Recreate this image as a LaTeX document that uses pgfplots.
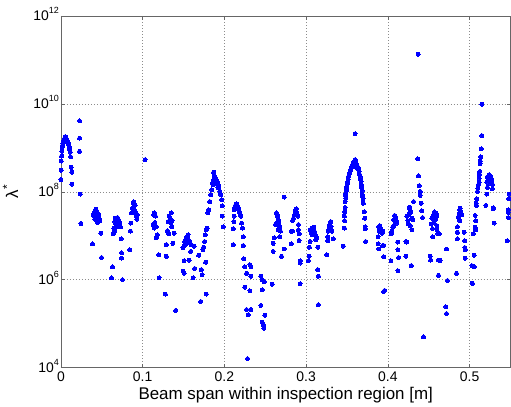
\documentclass[border=0pt]{standalone}
\usepackage{pgfplots}
\pgfplotsset{compat=1.18}
\usepackage{pgfplotstable}
\usepackage{fontspec}
\setmainfont{Liberation Sans}
\newcommand{\tl}[1]{10\raisebox{7.5bp}{\fontsize{9}{9}\selectfont #1}}
\pgfplotstableread{
x y
0.0000 1.9e8
0.0004 3.1e8
0.0004 5.0e8
0.0012 8.4e8
0.0016 1.07e9
0.0024 1.28e9
0.0030 1.4e9
0.0037 1.5e9
0.0045 1.65e9
0.0053 1.8e9
0.0059 1.75e9
0.0065 1.66e9
0.0071 1.55e9
0.0077 1.47e9
0.0085 1.3e9
0.0094 1.2e9
0.0100 1.08e9
0.0106 9.8e8
0.0114 8.0e8
0.0118 6.3e8
0.0126 3.6e8
0.0134 2.8e8
0.0134 1.5e8
0.0008 6.5e8
0.0020 1.15e9
0.0050 1.6e9
0.0080 1.35e9
0.0110 9.0e8
0.0228 4.1e9
0.0228 1.66e9
0.0228 8.3e8
0.0236 8.9e7
0.0244 1.9e7
0.0415 3.5e7
0.0436 3.7e7
0.0444 3.3e7
0.0427 3.0e7
0.0403 2.8e7
0.0456 2.8e7
0.0468 2.5e7
0.0476 2.2e7
0.0415 2.4e7
0.0436 2.2e7
0.0448 2.0e7
0.0394 3.0e7
0.0425 4.0e7
0.0440 2.6e7
0.0460 3.1e7
0.0488 1.15e7
0.0387 6.5e6
0.0497 3.2e6
0.0659 2.1e7
0.0680 2.3e7
0.0700 2.4e7
0.0712 2.1e7
0.0720 1.9e7
0.0672 1.8e7
0.0647 1.5e7
0.0659 1.3e7
0.0688 1.6e7
0.0729 1.6e7
0.0639 1.1e7
0.0736 8.5e6
0.0741 4.1e6
0.0741 3.1e6
0.0631 1.95e6
0.0619 1.1e6
0.0753 1.0e6
0.0692 2.6e7
0.0665 2.5e7
0.0883 5.5e7
0.0904 5.0e7
0.0875 4.3e7
0.0895 3.9e7
0.0916 3.3e7
0.0924 2.8e7
0.0863 3.3e7
0.0855 1.95e7
0.0851 1.27e7
0.0842 4.8e6
0.0891 5.9e7
0.0908 5.0e7
0.0930 2.4e7
0.0935 3.0e7
0.1030 5.4e8
0.1140 3.3e7
0.1156 2.8e7
0.1127 1.8e7
0.1140 1.5e7
0.1168 1.6e7
0.1180 1.05e7
0.1168 8.9e6
0.1197 3.7e6
0.1200 1.1e6
0.1278 4.7e5
0.1404 2.0e5
0.1135 3.0e7
0.1150 2.0e7
0.1350 3.3e7
0.1323 2.8e7
0.1310 2.1e7
0.1343 1.95e7
0.1360 2.2e7
0.1303 1.3e7
0.1384 1.15e7
0.1319 1.1e7
0.1290 6.3e6
0.1370 6.7e6
0.1290 3.4e6
0.1335 2.5e7
0.1355 1.6e7
0.1555 1.05e7
0.1535 8.9e6
0.1514 7.5e6
0.1506 5.8e6
0.1535 6.7e6
0.1575 7.4e6
0.1596 6.3e6
0.1628 5.8e6
0.1587 4.4e6
0.1493 5.3e6
0.1685 3.6e6
0.1506 2.7e6
0.1567 2.8e6
0.1636 1.8e6
0.1506 1.4e6
0.1494 1.55e6
0.1616 1.1e6
0.1718 1.7e6
0.1726 1.3e6
0.1710 3.2e5
0.1779 4.7e5
0.1770 2.5e6
0.1545 9.5e6
0.1560 8.0e6
0.1520 6.2e6
0.1737 4.8e6
0.1745 5.5e6
0.1758 7.4e6
0.1767 1.05e7
0.1779 1.37e7
0.1790 1.5e7
0.1799 3.3e7
0.1807 3.9e7
0.1820 6.0e7
0.1832 8.5e7
0.1848 1.1e8
0.1860 1.45e8
0.1868 2.8e8
0.1875 2.3e8
0.1884 1.9e8
0.1890 2.1e8
0.1897 1.85e8
0.1905 1.7e8
0.1911 1.75e8
0.1917 1.6e8
0.1925 1.45e8
0.1933 1.3e8
0.1945 1.02e8
0.1957 8.5e7
0.1966 6.6e7
0.1974 4.8e7
0.1974 2.8e7
0.1987 1.6e7
0.1855 1.6e8
0.1880 1.7e8
0.1900 1.5e8
0.1920 1.25e8
0.1870 1.9e8
0.2120 3.9e7
0.2137 5.0e7
0.2149 5.2e7
0.2161 4.7e7
0.2177 3.9e7
0.2189 3.3e7
0.2202 2.8e7
0.2210 1.95e7
0.2222 1.5e7
0.2230 9.5e6
0.2230 6.0e6
0.2120 2.8e7
0.2116 2.1e7
0.2108 1.45e7
0.2108 6.3e6
0.2128 4.5e7
0.2143 5.3e7
0.2155 5.0e7
0.2170 4.3e7
0.2183 3.6e7
0.2195 3.0e7
0.2238 3.0e6
0.2250 1.95e6
0.2312 2.2e6
0.2324 2.0e6
0.2271 1.4e6
0.2324 1.2e6
0.2250 6.8e5
0.2312 5.6e5
0.2271 2.1e5
0.2324 2.1e5
0.2292 1.6e5
0.2283 1.6e4
0.2446 1.2e6
0.2462 1.0e6
0.2487 8.9e5
0.2462 5.9e5
0.2446 2.6e5
0.2495 1.55e5
0.2462 1.08e5
0.2483 7.9e4
0.2475 9.5e4
0.2585 7.9e5
0.2731 7.6e7
0.2637 3.3e7
0.2650 2.8e7
0.2658 2.3e7
0.2637 1.95e7
0.2625 1.8e7
0.2678 1.6e7
0.2658 1.37e7
0.2686 1.27e7
0.2609 8.9e6
0.2597 6.7e6
0.2678 9.5e6
0.2597 4.4e6
0.2731 5.0e6
0.2698 3.4e6
0.2645 3.1e7
0.2665 2.0e7
0.2873 3.9e7
0.2865 3.5e7
0.2885 3.3e7
0.2857 3.0e7
0.2845 2.5e7
0.2898 2.8e7
0.2833 2.2e7
0.2906 1.8e7
0.2906 1.37e7
0.2833 1.27e7
0.2820 1.27e7
0.2914 1.1e7
0.2914 7.8e6
0.2817 6.5e6
0.2926 2.7e6
0.2926 2.4e6
0.2926 8.1e5
0.2880 4.1e7
0.2870 3.2e7
0.3049 1.37e7
0.3069 1.5e7
0.3089 1.45e7
0.3101 1.27e7
0.3110 1.05e7
0.3130 9.1e6
0.3061 1.15e7
0.3077 1.05e7
0.3049 7.4e6
0.3118 8.1e6
0.3040 5.5e6
0.3142 5.5e6
0.3036 3.4e6
0.3028 2.7e6
0.3142 1.7e6
0.3150 1.2e6
0.3150 2.7e5
0.3080 1.3e7
0.3095 1.55e7
0.3293 1.95e7
0.3281 1.7e7
0.3305 1.6e7
0.3272 1.27e7
0.3313 1.27e7
0.3264 9.5e6
0.3333 8.5e6
0.3264 7.7e6
0.3252 3.7e6
0.3300 2.1e7
0.3290 1.5e7
0.3598 2.1e9
0.3598 5.4e8
0.3578 4.5e8
0.3557 3.8e8
0.3537 2.9e8
0.3517 2.2e8
0.3508 1.7e8
0.3496 1.3e8
0.3488 1.02e8
0.3484 7.2e7
0.3476 6.0e7
0.3476 4.4e7
0.3468 2.8e7
0.3468 1.5e7
0.3455 5.8e6
0.3618 4.1e8
0.3639 3.5e8
0.3647 2.9e8
0.3660 2.2e8
0.3672 1.7e8
0.3680 1.25e8
0.3687 8.5e7
0.3696 6.9e7
0.3700 5.5e7
0.3712 3.5e7
0.3720 1.6e7
0.3724 1.45e7
0.3728 7.4e6
0.3588 4.8e8
0.3568 4.2e8
0.3547 3.3e8
0.3527 2.5e8
0.3512 1.9e8
0.3502 1.5e8
0.3492 1.15e8
0.3480 8.5e7
0.3608 4.4e8
0.3628 3.8e8
0.3643 3.2e8
0.3653 2.5e8
0.3666 1.9e8
0.3676 1.45e8
0.3684 1.05e8
0.3690 7.8e7
0.3605 5.0e8
0.3592 3.8e8
0.3615 3.6e8
0.3472 3.5e7
0.3470 2.2e7
0.3716 2.5e7
0.3887 1.6e7
0.3907 1.5e7
0.3919 1.37e7
0.3895 1.27e7
0.3928 1.15e7
0.3879 9.5e6
0.3936 1.27e7
0.3879 6.5e6
0.3887 5.0e6
0.3936 6.0e6
0.3948 6.0e6
0.3948 3.3e6
0.3948 5.4e5
0.3960 5.7e5
0.3900 1.7e7
0.3912 1.4e7
0.4082 2.9e7
0.4099 2.6e7
0.4070 2.3e7
0.4090 2.1e7
0.4111 1.95e7
0.4070 1.7e7
0.4058 1.58e7
0.4050 1.27e7
0.4042 1.1e7
0.4119 7.2e6
0.4123 4.8e6
0.4131 3.2e6
0.4038 2.7e6
0.4123 1.6e6
0.4086 2.4e7
0.4100 2.2e7
0.4314 6.0e7
0.4265 4.5e7
0.4282 3.5e7
0.4261 3.1e7
0.4233 2.8e7
0.4294 2.5e7
0.4245 2.2e7
0.4306 2.3e7
0.4253 1.85e7
0.4273 1.7e7
0.4294 1.37e7
0.4221 7.4e6
0.4230 7.2e6
0.4221 3.4e6
0.4286 2.1e6
0.4270 4.0e7
0.4371 1.35e11
0.4367 5.6e8
0.4375 2.3e8
0.4383 1.38e8
0.4396 1.02e8
0.4396 8.3e7
0.4408 5.5e7
0.4416 3.7e7
0.4424 2.6e7
0.4436 5.0e4
0.4570 3.5e7
0.4587 3.3e7
0.4558 3.0e7
0.4600 3.0e7
0.4538 2.5e7
0.4579 2.3e7
0.4558 2.0e7
0.4530 1.85e7
0.4600 1.7e7
0.4546 1.45e7
0.4600 1.37e7
0.4612 1.1e7
0.4550 9.4e6
0.4518 3.4e6
0.4522 2.8e6
0.4619 2.8e6
0.4640 2.75e6
0.4619 1.26e6
0.4628 1.1e7
0.4592 2.7e7
0.4565 3.3e7
0.4880 3.9e7
0.4893 3.5e7
0.4872 3.1e7
0.4905 3.0e7
0.4863 2.6e7
0.4880 2.2e7
0.4851 1.6e7
0.4851 1.2e7
0.4933 1.2e7
0.4851 8.5e6
0.4941 7.7e6
0.4941 5.4e6
0.4949 4.8e6
0.4945 3.1e6
0.4839 1.4e6
0.4729 9.6e5
0.4717 5.0e6
0.4710 2.4e5
0.4717 1.7e5
0.4885 4.2e7
0.4868 2.8e7
0.5149 9.8e9
0.5149 1.9e9
0.5144 9.5e8
0.5137 6.2e8
0.5128 4.4e8
0.5124 2.9e8
0.5116 2.05e8
0.5116 1.66e8
0.5108 1.45e8
0.5096 1.02e8
0.5088 6.9e7
0.5084 4.9e7
0.5067 2.9e7
0.5075 2.2e7
0.5067 1.55e7
0.5075 1.37e7
0.5046 1.1e7
0.5055 3.6e6
0.5027 2.1e6
0.5055 1.95e6
0.5034 8.3e5
0.5130 5.0e8
0.5120 2.5e8
0.5100 1.2e8
0.5080 5.5e7
0.5238 2.45e8
0.5218 2.2e8
0.5258 2.2e8
0.5230 1.86e8
0.5270 1.86e8
0.5210 1.66e8
0.5250 1.58e8
0.5279 1.48e8
0.5218 1.26e8
0.5279 1.17e8
0.5210 8.9e7
0.5291 4.1e7
0.5198 4.9e7
0.5299 1.95e7
0.5245 2.3e8
0.5265 2.0e8
0.5228 2.1e8
0.5287 4.3e7
0.5482 8.9e7
0.5480 6.9e7
0.5474 3.9e7
0.5470 3.4e7
0.5474 2.6e7
0.5460 7.7e6
}\datatable
\begin{document}
\begin{tikzpicture}
\useasboundingbox (-61bp,-39bp) rectangle (450.5bp,368bp);
\begin{axis}[
  at={(0,0)}, anchor=south west,
  scale only axis, width=450bp, height=352bp,
  ymode=log,
  xmin=0, xmax=0.55, ymin=1e4, ymax=1e12,
  xtick={0,0.1,0.2,0.3,0.4,0.5},
  xticklabels={0,0.1,0.2,0.3,0.4,0.5},
  ytick={1e4,1e6,1e8,1e10,1e12},
  yticklabels={\tl{4},\tl{6},\tl{8},\tl{10},\tl{12}},
  minor ytick={},
  yminorticks=false,
  tick align=inside,
  major tick length=4bp,
  tick style={black!60, line width=0.6bp},
  axis line style={black!60, line width=0.7bp},
  grid=major,
  major grid style={black!45, line width=0.6bp, dash pattern=on 1bp off 2bp},
  ticklabel style={font=\fontsize{14}{16}\selectfont, black},
  xticklabel style={anchor=north, inner sep=0pt, yshift=-4bp},
  yticklabel style={anchor=base east, inner sep=0pt, xshift=-2bp, yshift=-5bp},
  xlabel={Beam span within inspection region [m]},
  xlabel style={at={(axis description cs:0.5,0)}, anchor=base, yshift=-32bp, font=\fontsize{17}{20}\selectfont},
  ylabel={λ\raisebox{7bp}{\fontsize{12}{12}\selectfont *}},
  ylabel style={at={(axis description cs:-0.095,0.5)}, anchor=base, font=\fontsize{17}{20}\selectfont},
  clip=false,
]
\addplot[color=blue, only marks, mark=*, mark size=2bp, mark options={solid, fill=blue, draw=blue, line width=0pt}] table[x=x, y=y] {\datatable};
\end{axis}
\end{tikzpicture}
\end{document}
